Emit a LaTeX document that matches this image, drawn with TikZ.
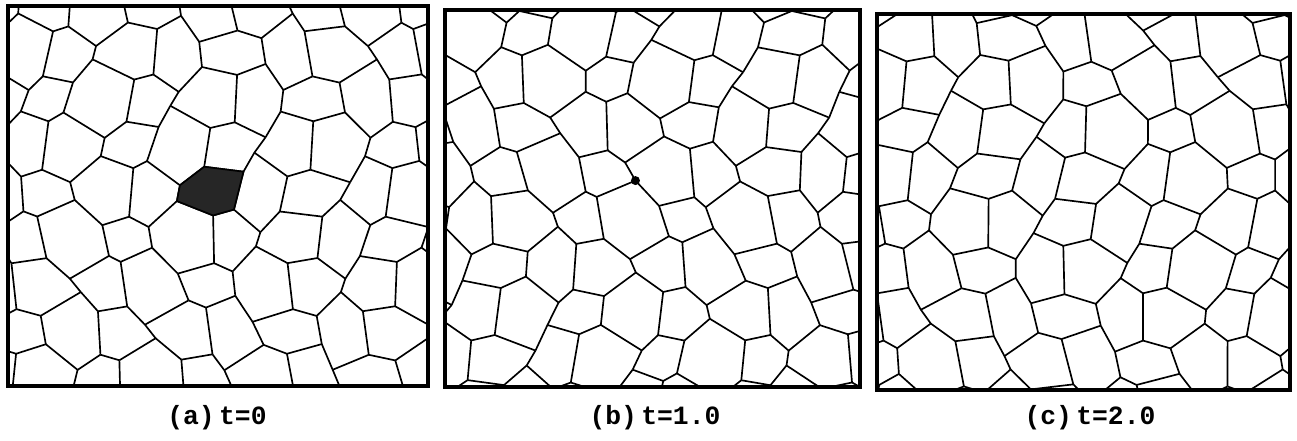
\documentclass[tikz,border=0pt]{standalone}
\usepackage{fontspec}
\newfontfamily\capfont{Liberation Mono}
\usetikzlibrary{positioning, calc}

\tikzset{
  grain/.style={line width=0.95pt, line join=round},
  frame/.style={line width=1.8pt},
  caption/.style={font=\capfont\bfseries\fontsize{15}{15}\selectfont, inner sep=0pt},
}

\begin{document}
\begin{tikzpicture}[x=0.02cm, y=-0.02cm]
\useasboundingbox (0,0) rectangle (1297,440);

% three panels: left, top, width, height, seed, name, network shift
\foreach \px/\py/\pw/\ph/\s/\n/\ox/\oy in {8/6/420/380/0/a/11/-23, 445/10/415/377/53/b/0/0, 877/14/413/376/117/c/0/0} {
  \begin{scope}
    \clip (\px,\py) rectangle ++(\pw,\ph);
    % jittered honeycomb vertices
    \foreach \i in {-1,...,17} {
      \foreach \j in {-1,...,9} {
        \pgfmathsetmacro\vx{\px + \ox + \i*26.85 + 10*sin(\i*127.1+\j*311.7+\s)*cos(\i*41.3-\j*83.9+2*\s)}
        \pgfmathsetmacro\vy{\py + \oy + \j*46.5 + (mod(\i+\j+4,2)==0 ? 7.75 : -7.75) + 9*cos(\i*71.9+\j*157.3+3*\s)}
        \coordinate (\n\i-\j) at (\vx,\vy);
      }
    }
    % zigzag boundaries along each row
    \foreach \j in {-1,...,9} {
      \foreach \i [evaluate=\i as \k using int(\i+1)] in {-1,...,16} {
        \draw[grain] (\n\i-\j) -- (\n\k-\j);
      }
    }
    % short boundaries between rows
    \foreach \j [evaluate=\j as \jj using int(\j+1)] in {-1,...,8} {
      \foreach \i in {-1,...,17} {
        \pgfmathtruncatemacro\e{mod(\i+\j+4,2)}
        \ifnum\e=0 \draw[grain] (\n\i-\j) -- (\n\i-\jj); \fi
      }
    }
  \end{scope}
  \draw[frame] (\px,\py) rectangle ++(\pw,\ph);
}

% the shrinking grain
\fill[black!85, draw=black, grain] (a6-4) -- (a7-4) -- (a8-4) -- (a8-5) -- (a7-5) -- (a6-5) -- cycle;
\fill (b7-4) circle (4.5);

% captions
\node[caption] (capa) at (217,418) {(a)\,t=0};
\node[caption] (capb) at (655,418) {(b)\,t=1.0};
\node[caption] (capc) at (1090,418) {(c)\,t=2.0};
\end{tikzpicture}
\end{document}
